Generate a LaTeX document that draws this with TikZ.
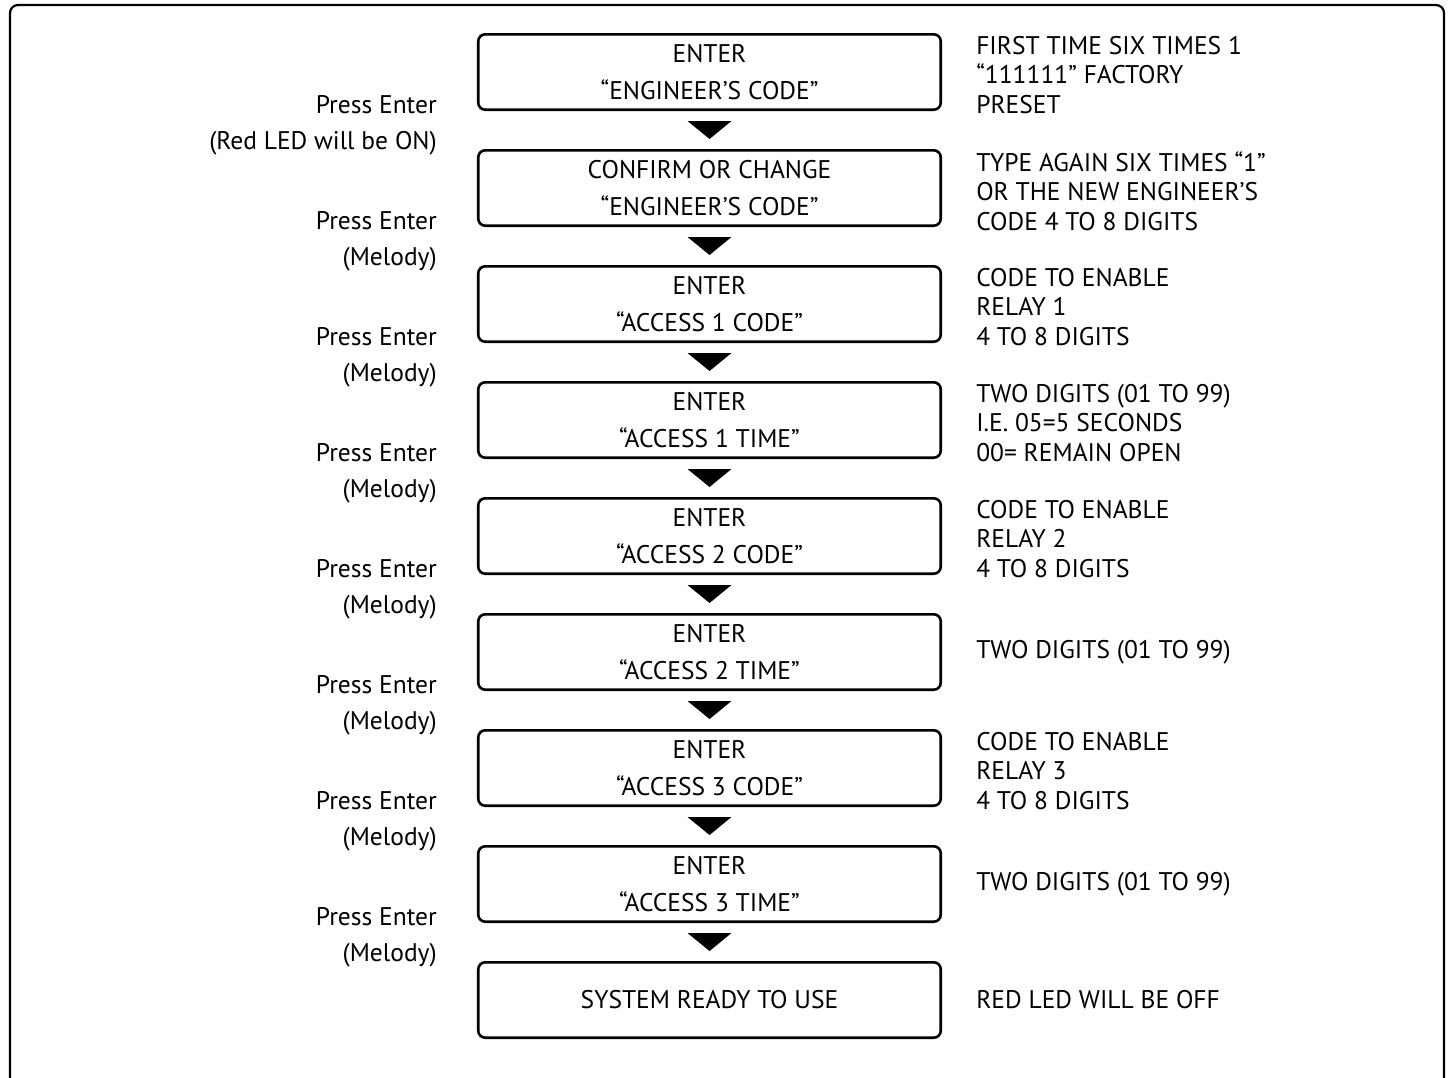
\documentclass[tikz,border=0pt]{standalone}
\usepackage{fontspec}
\setmainfont{PT Sans}
\usepackage{tikz}
\usetikzlibrary{positioning}

\begin{document}
\begin{tikzpicture}[
    node distance=38pt,
    box/.style={rectangle, draw, line width=2.6pt, rounded corners=7pt, minimum width=462.5pt, minimum height=75.4pt, align=center, font=\fontsize{25.5}{37.5}\selectfont},
    note/.style={anchor=west, inner sep=0pt, align=left, font=\fontsize{25.5}{29.5}\selectfont},
    side/.style={anchor=east, inner sep=0pt, align=right, font=\fontsize{25.5}{36}\selectfont},
    frame/.style={draw, line width=2.2pt, rounded corners=8pt}
]
\useasboundingbox (0pt,0pt) rectangle (1450pt,-1077pt);
% Outer frame
\draw[frame] (10pt,-5pt) rectangle (1444pt,-1095pt);
% Nodes
\node[box] (enter1) at (709.5pt,-72pt) {ENTER\\“ENGINEER’S CODE”};
\node[box, below=of enter1] (confirm) {CONFIRM OR CHANGE\\“ENGINEER’S CODE”};
\node[box, below=of confirm] (acc1code) {ENTER\\“ACCESS 1 CODE”};
\node[box, below=of acc1code] (acc1time) {ENTER\\“ACCESS 1 TIME”};
\node[box, below=of acc1time] (acc2code) {ENTER\\“ACCESS 2 CODE”};
\node[box, below=of acc2code] (acc2time) {ENTER\\“ACCESS 2 TIME”};
\node[box, below=of acc2time] (acc3code) {ENTER\\“ACCESS 3 CODE”};
\node[box, below=of acc3code] (acc3time) {ENTER\\“ACCESS 3 TIME”};
\node[box, below=of acc3time] (ready) {SYSTEM READY TO USE};
% Right side notes
\node[note, right=34pt of enter1, yshift=-3pt] (n1) {FIRST TIME SIX TIMES 1\\“111111” FACTORY\\PRESET};
\node[note, right=34pt of confirm, yshift=-3pt] (n2) {TYPE AGAIN SIX TIMES “1”\\OR THE NEW ENGINEER’S\\CODE 4 TO 8 DIGITS};
\node[note, right=34pt of acc1code, yshift=-3pt] (n3) {CODE TO ENABLE\\RELAY 1\\4 TO 8 DIGITS};
\node[note, right=34pt of acc1time, yshift=-3pt] (n4) {TWO DIGITS (01 TO 99)\\I.E. 05=5 SECONDS\\00= REMAIN OPEN};
\node[note, right=34pt of acc2code, yshift=-3pt] (n5) {CODE TO ENABLE\\RELAY 2\\4 TO 8 DIGITS};
\node[note, right=34pt of acc2time] (n6) {TWO DIGITS (01 TO 99)};
\node[note, right=34pt of acc3code, yshift=-3pt] (n7) {CODE TO ENABLE\\RELAY 3\\4 TO 8 DIGITS};
\node[note, right=34pt of acc3time] (n8) {TWO DIGITS (01 TO 99)};
\node[note, right=34pt of ready] (n9) {RED LED WILL BE OFF};
% Left side labels
\node[side] (p1) at ([xshift=-40pt,yshift=-14pt]enter1.south west) {Press Enter\\(Red LED will be ON)};
\foreach \a in {confirm, acc1code, acc1time, acc2code, acc2time, acc3code, acc3time}
    \node[side] (p-\a) at ([xshift=-40pt,yshift=-14pt]\a.south west) {Press Enter\\(Melody)};
% Arrows
\foreach \a/\b in {enter1/confirm, confirm/acc1code, acc1code/acc1time, acc1time/acc2code, acc2code/acc2time, acc2time/acc3code, acc3code/acc3time, acc3time/ready}
    \fill ([xshift=-22pt,yshift=-10pt]\a.south) -- ([xshift=22pt,yshift=-10pt]\a.south) -- ([yshift=10pt]\b.north) -- cycle;
\end{tikzpicture}
\end{document}
